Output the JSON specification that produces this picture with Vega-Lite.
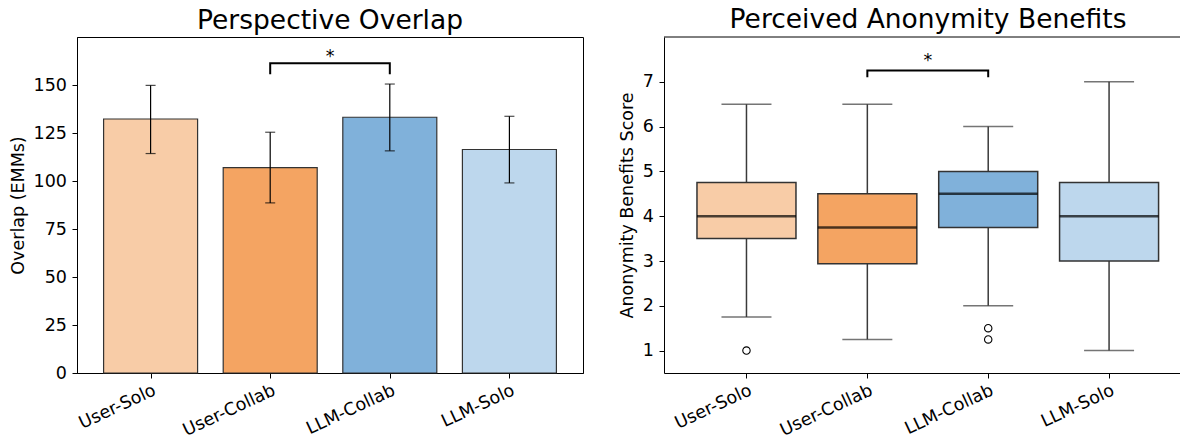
{
  "$schema": "https://vega.github.io/schema/vega-lite/v6.json",
  "padding": {"left": 9, "top": 7, "right": 0, "bottom": 0},
  "spacing": 34,
  "config": {
    "font": "DejaVu Sans",
    "view": {"stroke": "black", "strokeWidth": 1},
    "axis": {"grid": false, "domainColor": "black", "domainWidth": 1, "tickColor": "black", "tickWidth": 1, "tickSize": 5, "labelColor": "black", "labelFont": "DejaVu Sans", "labelFontSize": 17.5, "labelPadding": 5.5, "titleFont": "DejaVu Sans", "titleFontSize": 17.5, "titleFontWeight": "normal", "titleColor": "black", "titlePadding": 5.5},
    "title": {"font": "DejaVu Sans", "fontSize": 26.5, "fontWeight": "normal", "color": "black", "anchor": "middle", "offset": 3}
  },
  "datasets": {
    "overlap": [
      {"condition": "User-Solo", "pos": 0, "emm": 132.3, "lo": 114.3, "hi": 149.8},
      {"condition": "User-Collab", "pos": 1, "emm": 107.0, "lo": 88.6, "hi": 125.4},
      {"condition": "LLM-Collab", "pos": 2, "emm": 133.2, "lo": 115.7, "hi": 150.5},
      {"condition": "LLM-Solo", "pos": 3, "emm": 116.4, "lo": 99.0, "hi": 133.7}
    ],
    "boxes": [
      {"condition": "User-Solo", "pos": 0, "lower": 1.75, "q1": 3.5, "median": 4.0, "q3": 4.75, "upper": 6.5},
      {"condition": "User-Collab", "pos": 1, "lower": 1.25, "q1": 2.94, "median": 3.75, "q3": 4.5, "upper": 6.5},
      {"condition": "LLM-Collab", "pos": 2, "lower": 2.0, "q1": 3.75, "median": 4.5, "q3": 5.0, "upper": 6.0},
      {"condition": "LLM-Solo", "pos": 3, "lower": 1.0, "q1": 3.0, "median": 4.0, "q3": 4.75, "upper": 7.0}
    ],
    "outliers": [
      {"condition": "User-Solo", "pos": 0, "value": 1.0},
      {"condition": "LLM-Collab", "pos": 2, "value": 1.5},
      {"condition": "LLM-Collab", "pos": 2, "value": 1.25}
    ],
    "bracket1": [
      {"pos": 1, "y": 155.6, "k": 0},
      {"pos": 1, "y": 161.3, "k": 1},
      {"pos": 2, "y": 161.3, "k": 2},
      {"pos": 2, "y": 155.6, "k": 3}
    ],
    "bracket2": [
      {"pos": 1, "y": 7.1, "k": 0},
      {"pos": 1, "y": 7.25, "k": 1},
      {"pos": 2, "y": 7.25, "k": 2},
      {"pos": 2, "y": 7.1, "k": 3}
    ],
    "sig1": [{"pos": 1.5, "y": 162, "label": "*"}],
    "sig2": [{"pos": 1.5, "y": 7.35, "label": "*"}]
  },
  "hconcat": [
    {
      "title": "Perspective Overlap",
      "width": 506,
      "height": 336,
      "encoding": {
        "x": {"field": "pos", "type": "quantitative", "scale": {"domain": [-0.5735, 3.5735], "nice": false, "zero": false},
              "axis": {"values": [0, 1, 2, 3], "labelExpr": "['User-Solo','User-Collab','LLM-Collab','LLM-Solo'][datum.value]", "labelAngle": -25, "labelAlign": "right", "labelBaseline": "top", "labelPadding": 3, "labelFlush": false, "labelOverlap": false, "title": null}}
      },
      "layer": [
        {
          "data": {"name": "overlap"},
          "mark": {"type": "bar", "width": 94, "stroke": "#333333", "strokeWidth": 1.2},
          "encoding": {
            "y": {"field": "emm", "type": "quantitative", "scale": {"domain": [0, 175], "nice": false}, "axis": {"values": [0, 25, 50, 75, 100, 125, 150], "title": "Overlap (EMMs)"}},
            "color": {"field": "condition", "type": "nominal", "scale": {"domain": ["User-Solo", "User-Collab", "LLM-Collab", "LLM-Solo"], "range": ["#f8cca7", "#f4a462", "#80b1da", "#bdd7ed"]}, "legend": null}
          }
        },
        {
          "data": {"name": "overlap"},
          "mark": {"type": "rule", "color": "black", "strokeWidth": 1.2},
          "encoding": {"y": {"field": "lo", "type": "quantitative"}, "y2": {"field": "hi"}}
        },
        {
          "data": {"name": "overlap"},
          "mark": {"type": "tick", "orient": "horizontal", "size": 10, "thickness": 1.2, "color": "black"},
          "encoding": {"y": {"field": "lo", "type": "quantitative"}}
        },
        {
          "data": {"name": "overlap"},
          "mark": {"type": "tick", "orient": "horizontal", "size": 10, "thickness": 1.2, "color": "black"},
          "encoding": {"y": {"field": "hi", "type": "quantitative"}}
        },
        {
          "data": {"name": "bracket1"},
          "mark": {"type": "line", "color": "black", "strokeWidth": 2},
          "encoding": {"y": {"field": "y", "type": "quantitative"}, "order": {"field": "k"}}
        },
        {
          "data": {"name": "sig1"},
          "mark": {"type": "text", "fontSize": 17.5, "align": "center", "baseline": "alphabetic", "color": "black"},
          "encoding": {"y": {"field": "y", "type": "quantitative"}, "text": {"field": "label"}}
        }
      ]
    },
    {
      "title": {"text": "Perceived Anonymity Benefits", "dx": 5},
      "width": 518,
      "height": 336,
      "view": {"stroke": null},
      "encoding": {
        "x": {"field": "pos", "type": "quantitative", "scale": {"domain": [-0.641, 3.562], "nice": false, "zero": false},
              "axis": {"values": [0, 1, 2, 3], "labelExpr": "['User-Solo','User-Collab','LLM-Collab','LLM-Solo'][datum.value]", "labelAngle": -25, "labelAlign": "right", "labelBaseline": "top", "labelPadding": 3, "labelFlush": false, "labelOverlap": false, "title": null}}
      },
      "layer": [
        {
          "data": {"name": "sig2"},
          "mark": {"type": "rule", "color": "black", "strokeWidth": 1},
          "encoding": {"x": null, "y": {"datum": 8, "type": "quantitative"}}
        },
        {
          "data": {"name": "boxes"},
          "mark": {"type": "rule", "color": "#3a3a3a", "strokeWidth": 1.5},
          "encoding": {
            "y": {"field": "lower", "type": "quantitative", "scale": {"domain": [0.5, 8], "nice": false, "zero": false}, "axis": {"values": [1, 2, 3, 4, 5, 6, 7], "title": "Anonymity Benefits Score"}},
            "y2": {"field": "upper"}
          }
        },
        {
          "data": {"name": "boxes"},
          "mark": {"type": "bar", "width": 99, "stroke": "#333333", "strokeWidth": 1.5},
          "encoding": {
            "y": {"field": "q1", "type": "quantitative"},
            "y2": {"field": "q3"},
            "color": {"field": "condition", "type": "nominal", "scale": {"domain": ["User-Solo", "User-Collab", "LLM-Collab", "LLM-Solo"], "range": ["#f8cca7", "#f4a462", "#80b1da", "#bdd7ed"]}, "legend": null}
          }
        },
        {
          "data": {"name": "boxes"},
          "mark": {"type": "tick", "orient": "horizontal", "size": 50, "thickness": 1.5, "color": "#3a3a3a"},
          "encoding": {"y": {"field": "lower", "type": "quantitative"}}
        },
        {
          "data": {"name": "boxes"},
          "mark": {"type": "tick", "orient": "horizontal", "size": 50, "thickness": 1.5, "color": "#3a3a3a"},
          "encoding": {"y": {"field": "upper", "type": "quantitative"}}
        },
        {
          "data": {"name": "boxes"},
          "mark": {"type": "tick", "orient": "horizontal", "size": 99, "thickness": 2.5, "color": "black"},
          "encoding": {"y": {"field": "median", "type": "quantitative"}}
        },
        {
          "data": {"name": "outliers"},
          "mark": {"type": "point", "shape": "circle", "filled": false, "size": 55, "stroke": "black", "strokeWidth": 1.1, "opacity": 1},
          "encoding": {"y": {"field": "value", "type": "quantitative"}}
        },
        {
          "data": {"name": "bracket2"},
          "mark": {"type": "line", "color": "black", "strokeWidth": 2},
          "encoding": {"y": {"field": "y", "type": "quantitative"}, "order": {"field": "k"}}
        },
        {
          "data": {"name": "sig2"},
          "mark": {"type": "text", "fontSize": 17.5, "align": "center", "baseline": "alphabetic", "color": "black"},
          "encoding": {"y": {"field": "y", "type": "quantitative"}, "text": {"field": "label"}}
        }
      ]
    }
  ]
}
